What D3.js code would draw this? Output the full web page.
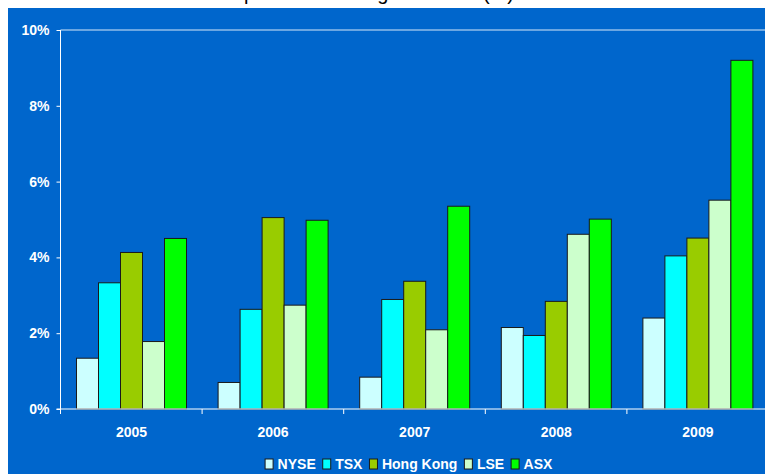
<!DOCTYPE html>
<html>
<head>
<meta charset="utf-8">
<script src="https://cdn.jsdelivr.net/npm/d3@7"></script>
<style>
  body { margin: 0; background: #fff; }
  svg { display: block; }
  text { font-family: Arial, "Liberation Sans", sans-serif; }
</style>
</head>
<body>
<svg id="chart" width="765" height="474"></svg>
<script>
// data
const years = ["2005", "2006", "2007", "2008", "2009"];
const series = ["NYSE", "TSX", "Hong Kong", "LSE", "ASX"];
const colors = ["#CCFFFF", "#00FFFF", "#99CC00", "#CCFFCC", "#00FF00"];
const nyse = [1.34, 0.70, 0.84, 2.15, 2.40];
const tsx = [3.33, 2.63, 2.89, 1.94, 4.04];
const hongKong = [4.13, 5.05, 3.37, 2.84, 4.51];
const lse = [1.78, 2.74, 2.09, 4.61, 5.51];
const asx = [4.50, 4.98, 5.35, 5.01, 9.20];
const yTicks = [0, 2, 4, 6, 8, 10];

const values = [nyse, tsx, hongKong, lse, asx];

const svg = d3.select("#chart");

// title sits above the visible area in the original, only descenders show
svg.append("text")
  .attr("x", 514)
  .attr("y", -0.5)
  .attr("text-anchor", "end")
  .attr("font-size", 20)
  .attr("fill", "#000")
  .text("Dividend per share total growth rate (%)");

// blue panel
svg.append("rect")
  .attr("x", 8).attr("y", 8)
  .attr("width", 765).attr("height", 474)
  .attr("fill", "#0066CC");

const left = 60.5, bandW = 141.6;
const y = d3.scaleLinear().domain([0, 10]).range([409, 30]);
const x0 = d3.scaleBand().domain(years).range([left, left + bandW * years.length]);
const x1 = d3.scaleBand().domain(series).range([16, 126]);

// top border of the plot area
svg.append("line")
  .attr("x1", left).attr("x2", 765)
  .attr("y1", y(10)).attr("y2", y(10))
  .attr("stroke", "#d8e8f8").attr("stroke-width", 1);

// bars
const rows = [];
years.forEach((yr, i) => {
  series.forEach((s, j) => rows.push({ year: yr, s: s, j: j, v: values[j][i] }));
});

svg.append("g").selectAll("rect")
  .data(rows)
  .join("rect")
  .attr("x", d => x0(d.year) + x1(d.s))
  .attr("y", d => y(d.v))
  .attr("width", x1.bandwidth())
  .attr("height", d => y(0) - y(d.v))
  .attr("fill", d => colors[d.j])
  .attr("stroke", "#1a1a1a")
  .attr("stroke-width", 1);

// y axis
const yAxis = svg.append("g")
  .attr("transform", `translate(${left},0)`)
  .call(d3.axisLeft(y).tickValues(yTicks).tickSize(4).tickPadding(7)
    .tickFormat(d => d + "%"));
yAxis.select(".domain").attr("stroke", "#fff").attr("d", `M0,${y(10)}V413`);
yAxis.selectAll(".tick line").attr("stroke", "#fff");
yAxis.selectAll(".tick text")
  .attr("fill", "#fff")
  .attr("font-size", 14)
  .attr("font-weight", "bold")
  .attr("font-family", "Arial, 'Liberation Sans', sans-serif");

// x axis
svg.append("line")
  .attr("x1", left - 4).attr("x2", 765)
  .attr("y1", y(0)).attr("y2", y(0))
  .attr("stroke", "#fff").attr("stroke-width", 1.2);

svg.append("g").selectAll("line")
  .data(years)
  .join("line")
  .attr("x1", d => x0(d)).attr("x2", d => x0(d))
  .attr("y1", y(0)).attr("y2", y(0) + 5)
  .attr("stroke", "#fff");

svg.append("g").selectAll("text")
  .data(years)
  .join("text")
  .attr("x", d => x0(d) + 16 + 55)
  .attr("y", 437)
  .attr("text-anchor", "middle")
  .attr("fill", "#fff")
  .attr("font-size", 14)
  .attr("font-weight", "bold")
  .text(d => d);

// legend
const legend = svg.append("g");
let cx = 0;
series.forEach((s, j) => {
  const g = legend.append("g").attr("transform", `translate(${cx},0)`);
  g.append("rect")
    .attr("x", 0.5).attr("y", 459)
    .attr("width", 8).attr("height", 10)
    .attr("fill", colors[j])
    .attr("stroke", "#1a1a1a");
  const t = g.append("text")
    .attr("x", 13).attr("y", 469)
    .attr("fill", "#fff")
    .attr("font-size", 14)
    .attr("font-weight", "bold")
    .text(s);
  cx += 13 + t.node().getComputedTextLength() + 6.5;
});
legend.attr("transform", `translate(${408.5 - (cx - 6.5) / 2},0)`);
</script>
</body>
</html>
